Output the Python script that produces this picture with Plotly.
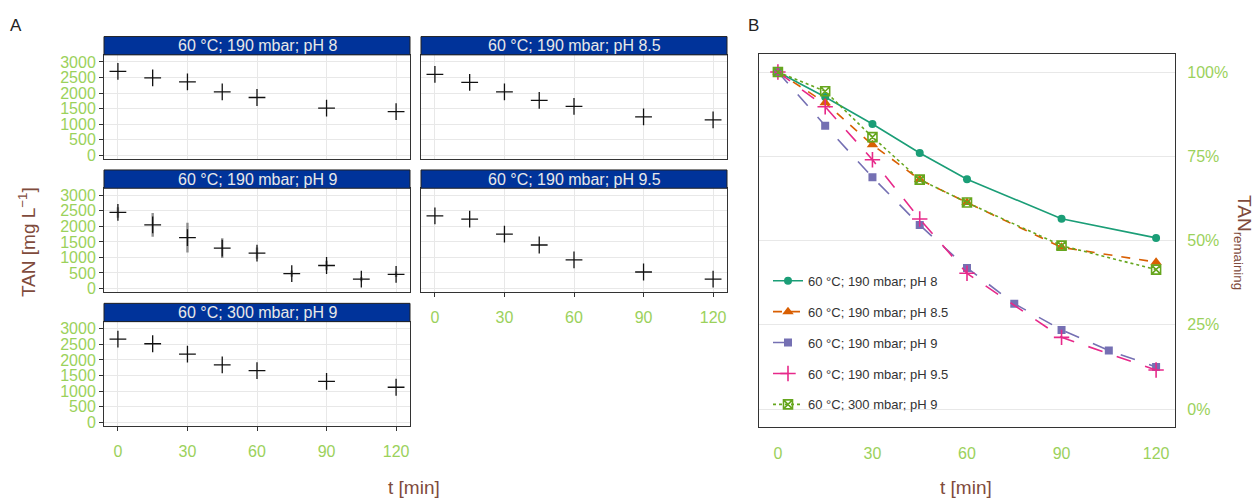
import plotly.graph_objects as go

# ---------------- data ----------------
labels = ["60 °C; 190 mbar; pH 8", "60 °C; 190 mbar; pH 8.5", "60 °C; 190 mbar; pH 9",
          "60 °C; 190 mbar; pH 9.5", "60 °C; 300 mbar; pH 9"]
times_std = [0, 15, 30, 45, 60, 90, 120]
times_ph9 = [0, 15, 30, 45, 60, 75, 90, 105, 120]

tan_ph8 = [2700, 2490, 2360, 2035, 1855, 1515, 1400]
tan_ph85 = [2600, 2340, 2035, 1760, 1570, 1230, 1135]
tan_ph9 = [2450, 2050, 1640, 1300, 1140, 480, 740, 300, 455]
tan_ph9_err = [170, 380, 480, 320, 180, 100, 150, 70, 90]
tan_ph95 = [2340, 2235, 1750, 1400, 920, 530, 300]
tan_300 = [2670, 2520, 2185, 1845, 1655, 1315, 1125]

pct_ph8 = [100, 92.6, 84.6, 76.0, 68.2, 56.5, 50.8]
pct_ph85 = [100, 90.9, 78.4, 68.1, 61.3, 48.0, 43.6]
pct_ph9 = [100, 84.1, 68.8, 54.6, 41.9, 31.3, 23.5, 17.4, 12.5]
pct_ph95 = [100, 89.7, 74.0, 56.4, 40.3, 21.3, 11.6]
pct_300 = [100, 94.3, 80.7, 68.1, 61.3, 48.5, 41.4]

x_ticks = [0, 30, 60, 90, 120]
y_ticks_a = [0, 500, 1000, 1500, 2000, 2500, 3000]
y_ticks_b = [0, 0.25, 0.5, 0.75, 1.0]

# ---------------- styling ----------------
W, H = 1255, 503
FONT = "Liberation Sans, Arial, sans-serif"
GREEN_TXT = "#9BD15B"
BROWN = "#7F4B3C"
STRIP = "#00339A"
GRID = "#E8E8E8"
dark2 = ["#1B9E77", "#D95F02", "#7570B3", "#E7298A", "#66A61E"]


def fx(p):
    return p / W


def fy(p):
    return 1 - p / H


colL = (104, 410)
colR = (421, 727)
rows = [(54.5, 160), (189.5, 295), (324.5, 430.5)]
strips = [(36, 54.5), (171, 189.5), (306, 324.5)]

panels = [
    (labels[0], times_std, tan_ph8, None, colL, 0),
    (labels[1], times_std, tan_ph85, None, colR, 0),
    (labels[2], times_ph9, tan_ph9, tan_ph9_err, colL, 1),
    (labels[3], times_std, tan_ph95, None, colR, 1),
    (labels[4], times_std, tan_300, None, colL, 2),
]
show_x = [False, False, False, True, True]
show_y = [True, False, True, False, True]

fig = go.Figure()
layout = dict(width=W, height=H, margin=dict(l=0, r=0, t=0, b=0),
              paper_bgcolor="white", plot_bgcolor="white",
              font=dict(family=FONT, size=13, color="#333333"))
shapes = []
annotations = []

for i, (lab, tx, ty, err, col, r) in enumerate(panels):
    n = i + 1
    xa = "x" if n == 1 else f"x{n}"
    ya = "y" if n == 1 else f"y{n}"
    tr = dict(x=tx, y=ty, mode="markers", xaxis=xa, yaxis=ya, showlegend=False,
              marker=dict(symbol="cross-thin", size=12, color="black",
                          line=dict(color="#111111", width=1.3)))
    if err is not None:
        tr["error_y"] = dict(type="data", array=err, visible=True, width=0,
                             thickness=2.4, color="rgba(100,100,100,0.7)")
    fig.add_trace(go.Scatter(**tr))
    xkey = "xaxis" if n == 1 else f"xaxis{n}"
    ykey = "yaxis" if n == 1 else f"yaxis{n}"
    layout[xkey] = dict(domain=[fx(col[0]), fx(col[1])], range=[-6, 126], anchor=ya,
                        tickvals=x_ticks, showgrid=True, gridcolor=GRID, gridwidth=1,
                        zeroline=False, showline=True, mirror=True, linecolor="#333333",
                        linewidth=1, ticks="outside" if show_x[i] else "", ticklen=4,
                        tickcolor="#333333", showticklabels=show_x[i],
                        tickfont=dict(family=FONT, size=16, color=GREEN_TXT),
                        ticklabelstandoff=6)
    layout[ykey] = dict(domain=[fy(rows[r][1]), fy(rows[r][0])], range=[-130, 3230],
                        anchor=xa, tickvals=y_ticks_a, showgrid=True, gridcolor=GRID,
                        gridwidth=1, zeroline=False, showline=True, mirror=True,
                        linecolor="#333333", linewidth=1,
                        ticks="outside" if show_y[i] else "", ticklen=4,
                        tickcolor="#333333", showticklabels=show_y[i],
                        tickfont=dict(family=FONT, size=16, color=GREEN_TXT))
    s0, s1 = strips[r]
    shapes.append(dict(type="rect", xref="paper", yref="paper", x0=fx(col[0]), x1=fx(col[1]),
                       y0=fy(s1), y1=fy(s0), fillcolor=STRIP,
                       line=dict(color="#222222", width=1), layer="above"))
    annotations.append(dict(text=lab, xref="paper", yref="paper", x=fx((col[0] + col[1]) / 2),
                            y=fy((s0 + s1) / 2), showarrow=False, xanchor="center",
                            yanchor="middle", font=dict(family=FONT, size=16, color="#E8E8E8")))

# ---------------- panel B ----------------
series_b = [
    (labels[0], times_std, pct_ph8, "circle", 8, "solid", dark2[0]),
    (labels[1], times_std, pct_ph85, "triangle-up", 10, "dash", dark2[1]),
    (labels[2], times_ph9, pct_ph9, "square", 8, "longdash", dark2[2]),
    (labels[3], times_std, pct_ph95, "cross-thin", 11, "longdash", dark2[3]),
    (labels[4], times_std, pct_300, "square-x-open", 9, "dot", dark2[4]),
]
for k, (lab, tx, pv, sym, sz, dash, colr) in enumerate(series_b):
    mk = dict(symbol=sym, size=sz, color=colr)
    if sym in ("cross-thin", "square-x-open"):
        mk["line"] = dict(color=colr, width=1.6)
    fig.add_trace(go.Scatter(x=tx, y=[v / 100 for v in pv], mode="lines+markers",
                             name=lab, xaxis="x6", yaxis="y6", legendgroup=f"g{k}",
                             line=dict(color=colr, width=1.6, dash=dash), marker=mk))

bx = (759, 1175)
by = (54, 431)
layout["xaxis6"] = dict(domain=[fx(bx[0]), fx(bx[1])], range=[-6, 126], anchor="y6",
                        tickvals=x_ticks, showgrid=False, zeroline=False, showline=True,
                        mirror=True, linecolor="#333333", linewidth=1.2, ticks="",
                        tickfont=dict(family=FONT, size=16, color=GREEN_TXT),
                        ticklabelstandoff=12)
layout["yaxis6"] = dict(domain=[fy(by[1]), fy(by[0])], range=[-0.0525, 1.0525], anchor="x6",
                        side="right", tickvals=y_ticks_b, tickformat=".0%", showgrid=True,
                        gridcolor=GRID, gridwidth=1, zeroline=False, showline=True,
                        mirror=True, linecolor="#333333", linewidth=1.2, ticks="",
                        tickfont=dict(family=FONT, size=16, color=GREEN_TXT),
                        ticklabelstandoff=8)

layout["legend"] = dict(x=fx(768), y=fy(268), xanchor="left", yanchor="top",
                        bgcolor="rgba(0,0,0,0)", tracegroupgap=11,
                        font=dict(family=FONT, size=13, color="#333333"))

# titles and panel letters
def note(text, px, py, size, color, angle=0):
    return dict(text=text, x=fx(px), y=fy(py), xref="paper", yref="paper", showarrow=False,
                xanchor="center", yanchor="middle", textangle=angle,
                font=dict(family=FONT, size=size, color=color))


annotations += [
    note("A", 16, 25, 17, "#222222"),
    note("B", 753, 25, 17, "#222222"),
    note("TAN [mg L<sup>−1</sup>]", 27, 244, 19, BROWN, -90),
    note("t [min]", 414, 492, 19, BROWN),
    note("t [min]", 966, 492, 19, BROWN),
    note("TAN<sub>remaining</sub>", 1243, 244, 19, BROWN, 90),
]
layout["shapes"] = shapes
layout["annotations"] = annotations
fig.update_layout(**layout)
fig.write_html("out.html")
